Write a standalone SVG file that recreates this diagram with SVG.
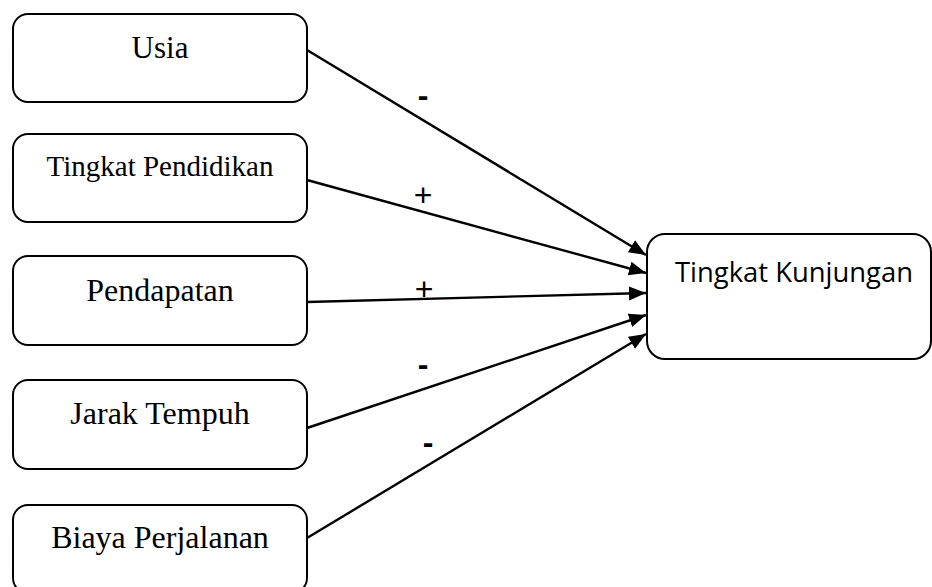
<svg xmlns="http://www.w3.org/2000/svg" width="932" height="587" viewBox="0 0 932 587">
<style>
.box{fill:#fff;stroke:#000;stroke-width:2}
.t{font-family:"Liberation Serif","Times New Roman",serif;font-size:32px;fill:#000;text-anchor:middle}
.lbl{font-family:"Liberation Sans",Arial,sans-serif;font-size:32px;fill:#000;text-anchor:middle}
.minus{font-weight:bold}
.edge{stroke:#000;stroke-width:2.4;fill:none;marker-end:url(#ah)}
</style>
<defs>
<marker id="ah" markerUnits="userSpaceOnUse" markerWidth="20" markerHeight="16" refX="17" refY="7" orient="auto">
<path d="M0,0 L17,7 L0,14 z" fill="#000"/>
</marker>
</defs>
<rect width="932" height="587" fill="#fff"/>
<g id="connectors">
<line class="edge" x1="307" y1="50" x2="646" y2="255"/>
<line class="edge" x1="307" y1="180" x2="646" y2="273"/>
<line class="edge" x1="307" y1="302" x2="646" y2="293"/>
<line class="edge" x1="307" y1="428" x2="646" y2="315"/>
<line class="edge" x1="307" y1="538" x2="646" y2="334"/>
<text class="lbl minus" x="423" y="106">-</text>
<text class="lbl" x="423" y="206">+</text>
<text class="lbl" x="424" y="300">+</text>
<text class="lbl minus" x="423" y="375">-</text>
<text class="lbl minus" x="428" y="453">-</text>
</g>
<g id="usia">
<rect class="box" x="13" y="14" width="294" height="88" rx="15"/>
<text class="t" x="160" y="58" style="font-size:31px">Usia</text>
</g>
<g id="tingkat-pendidikan">
<rect class="box" x="13" y="134" width="294" height="88" rx="15"/>
<text class="t" x="160" y="176" style="font-size:29px">Tingkat Pendidikan</text>
</g>
<g id="pendapatan">
<rect class="box" x="13" y="256" width="294" height="89" rx="15"/>
<text class="t" x="160" y="301">Pendapatan</text>
</g>
<g id="jarak-tempuh">
<rect class="box" x="13" y="380" width="294" height="89" rx="15"/>
<text class="t" x="160" y="424">Jarak Tempuh</text>
</g>
<g id="biaya-perjalanan">
<rect class="box" x="13" y="505" width="294" height="88" rx="15"/>
<text class="t" x="160" y="548">Biaya Perjalanan</text>
</g>
<g id="tingkat-kunjungan">
<rect class="box" x="647" y="234" width="284" height="125" rx="18"/>
<text x="794" y="282" font-family="'Open Sans','Noto Sans',sans-serif" font-size="28" text-anchor="middle" textLength="238" lengthAdjust="spacingAndGlyphs" fill="#000">Tingkat Kunjungan</text>
</g>
</svg>
